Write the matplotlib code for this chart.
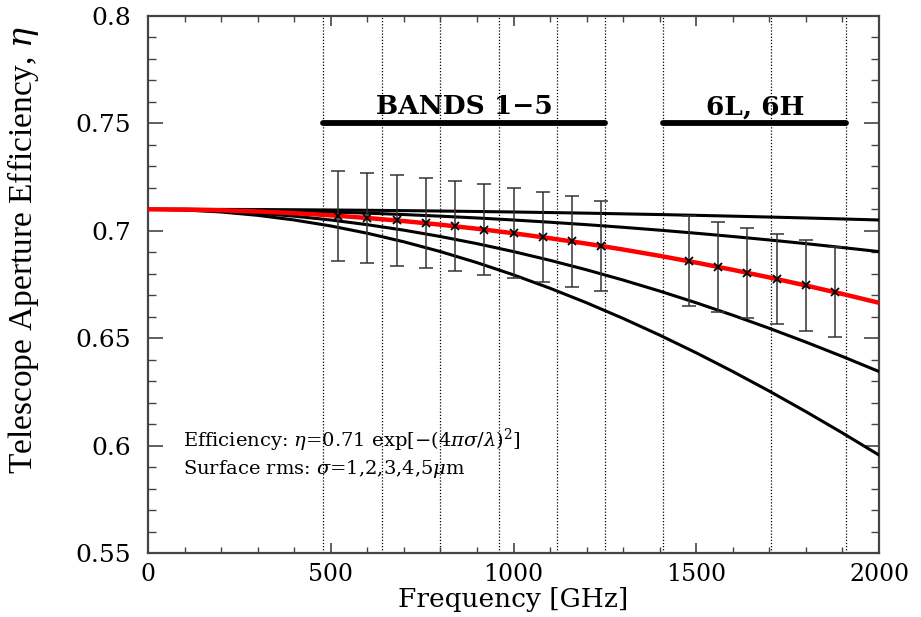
import matplotlib
matplotlib.use("Agg")
import matplotlib.pyplot as plt
from matplotlib.ticker import MultipleLocator

plt.rcParams['mathtext.fontset'] = 'dejavuserif'

# Frequency grid (GHz)
freq = [0, 100, 200, 300, 400, 500, 600, 700, 800, 900, 1000,
        1100, 1200, 1300, 1400, 1500, 1600, 1700, 1800, 1900, 2000]

# Efficiency curves for surface rms sigma = 1..5 um
eff_s1 = [0.7100, 0.70999, 0.70995, 0.70989, 0.70980, 0.70969, 0.70955, 0.70939, 0.70920, 0.70899, 0.70875,
          0.70849, 0.70821, 0.70789, 0.70756, 0.70720, 0.70681, 0.70640, 0.70597, 0.70551, 0.70503]
eff_s2 = [0.7100, 0.70995, 0.70980, 0.70955, 0.70920, 0.70875, 0.70821, 0.70756, 0.70681, 0.70597, 0.70503,
          0.70399, 0.70285, 0.70162, 0.70029, 0.69886, 0.69734, 0.69573, 0.69402, 0.69221, 0.69032]
eff_s3 = [0.7100, 0.70989, 0.70955, 0.70899, 0.70821, 0.70720, 0.70597, 0.70452, 0.70285, 0.70096, 0.69886,
          0.69654, 0.69402, 0.69128, 0.68833, 0.68518, 0.68183, 0.67828, 0.67454, 0.67060, 0.66648]
eff_s4 = [0.7100, 0.70980, 0.70920, 0.70821, 0.70681, 0.70503, 0.70285, 0.70029, 0.69734, 0.69402, 0.69032,
          0.68625, 0.68183, 0.67706, 0.67194, 0.66648, 0.66070, 0.65460, 0.64819, 0.64148, 0.63449]
eff_s5 = [0.7100, 0.70969, 0.70875, 0.70720, 0.70503, 0.70225, 0.69886, 0.69488, 0.69032, 0.68518, 0.67949,
          0.67325, 0.66648, 0.65920, 0.65143, 0.64318, 0.63449, 0.62536, 0.61582, 0.60589, 0.59560]

# Measurement points on sigma = 3 um curve with error bars
pt_freq = [520, 600, 680, 760, 840, 920, 1000, 1080, 1160, 1240,
           1480, 1560, 1640, 1720, 1800, 1880]
pt_eff = [0.70697, 0.70597, 0.70483, 0.70354, 0.70212, 0.70056, 0.69886, 0.69702, 0.69505, 0.69295,
          0.68583, 0.68320, 0.68044, 0.67755, 0.67454, 0.67141]
pt_err = [0.021] * 16

# Band edges (dotted verticals) and band groups
band_edges = [480, 640, 800, 960, 1120, 1250, 1410, 1705, 1910]
band_groups = ["BANDS 1\u22125", "6L, 6H"]
group_start = [480, 1410]
group_end = [1250, 1910]
group_level = 0.75
group_label_x = [865, 1660]

fig = plt.figure(figsize=(9.21, 6.17), dpi=100)
ax = fig.add_axes([0.1607, 0.1037, 0.9544 - 0.1607, 0.9741 - 0.1037])

for xe in band_edges:
    ax.axvline(xe, color='black', lw=0.9, ls=(0, (1, 1.5)), zorder=1)

for s, e in zip(group_start, group_end):
    ax.plot([s, e], [group_level, group_level], color='black', lw=4.2,
            solid_capstyle='round', zorder=3)
for lab, lx in zip(band_groups, group_label_x):
    ax.text(lx, group_level + 0.002, lab, ha='center', va='bottom',
            fontsize=19, family='DejaVu Serif', weight='bold')

for ys in (eff_s1, eff_s2, eff_s4, eff_s5):
    ax.plot(freq, ys, color='black', lw=2.2, zorder=4)
ax.plot(freq, eff_s3, color='#ff0000', lw=3.2, zorder=5)

ax.errorbar(pt_freq, pt_eff, yerr=pt_err, fmt='none', ecolor='#333333',
            elinewidth=1.1, capsize=5, capthick=1.1, zorder=6)
ax.plot(pt_freq, pt_eff, 'x', color='black', ms=6, mew=1.3, zorder=7)

ax.text(96, 0.5995, r"Efficiency: $\eta$=0.71 exp[$-$(4$\pi\sigma$/$\lambda$)$^2$]",
        fontsize=14, family='DejaVu Serif', ha='left', va='baseline')
ax.text(96, 0.5870, r"Surface rms: $\sigma$=1,2,3,4,5$\mu$m",
        fontsize=14, family='DejaVu Serif', ha='left', va='baseline')

ax.set_xlim(0, 2000)
ax.set_ylim(0.55, 0.8)
ax.xaxis.set_major_locator(MultipleLocator(500))
ax.xaxis.set_minor_locator(MultipleLocator(100))
ax.yaxis.set_major_locator(MultipleLocator(0.05))
ax.yaxis.set_minor_locator(MultipleLocator(0.01))
ax.set_xticks([0, 500, 1000, 1500, 2000])
ax.set_xticklabels(['0', '500', '1000', '1500', '2000'])
ax.set_yticks([0.55, 0.6, 0.65, 0.7, 0.75, 0.8])
ax.set_yticklabels(['0.55', '0.6', '0.65', '0.7', '0.75', '0.8'])

ax.tick_params(axis='x', which='major', direction='in', length=7.5, width=1.2,
               top=True, bottom=True, pad=7, labelsize=17, colors='#444444', labelcolor='black')
ax.tick_params(axis='x', which='minor', direction='in', length=4.3, width=1.0,
               top=True, bottom=True, colors='#444444')
ax.tick_params(axis='y', which='major', direction='in', length=11, width=1.2,
               left=True, right=True, pad=12, labelsize=18, colors='#444444', labelcolor='black')
ax.tick_params(axis='y', which='minor', direction='in', length=5.8, width=1.0,
               left=True, right=True, colors='#444444')
for lbl in ax.get_xticklabels() + ax.get_yticklabels():
    lbl.set_family('DejaVu Serif')

for sp in ax.spines.values():
    sp.set_color('#444444')
    sp.set_linewidth(1.6)

ax.set_xlabel("Frequency [GHz]", fontsize=19, family='DejaVu Serif')
ax.xaxis.set_label_coords(0.5, -0.087)
ax.xaxis.label.set_va('center')
ax.set_ylabel(r"Telescope Aperture Efficiency, $\eta$", fontsize=24,
              family='Liberation Serif')
ax.yaxis.set_label_coords(-0.146, 0.565)

fig.savefig("out.png", dpi=100)
